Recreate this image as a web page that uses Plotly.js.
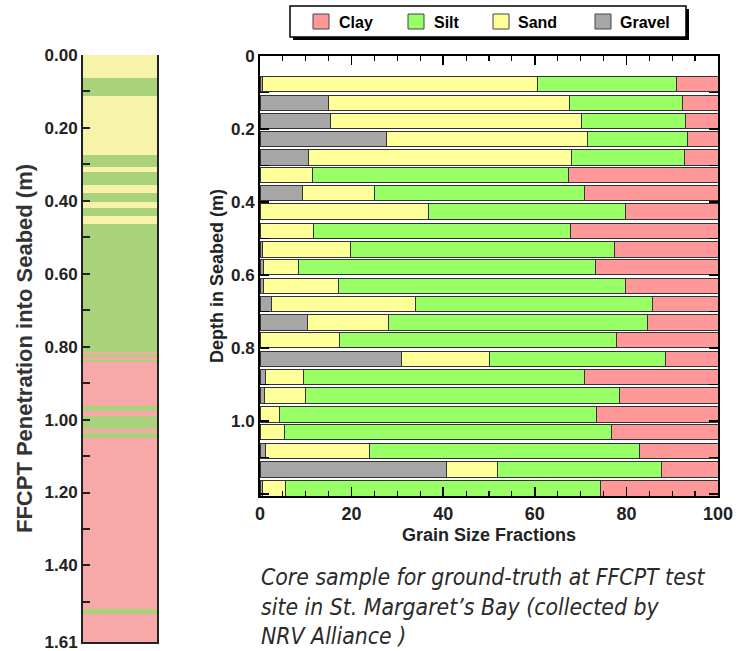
<!DOCTYPE html>
<html>
<head>
<meta charset="utf-8">
<script src="https://cdn.plot.ly/plotly-3.0.1.min.js"></script>
<style>html,body{margin:0;padding:0;background:#fff;}#chart{width:744px;height:651px;}</style>
</head>
<body>
<div id="chart"></div>
<script>
// ---------- DATA ----------
// Right panel: grain size fractions (%) per sample depth (m)
const sampleDepth = [0.077, 0.129, 0.178, 0.227, 0.277, 0.326, 0.375, 0.425, 0.479, 0.529, 0.578, 0.630,
                     0.679, 0.729, 0.778, 0.830, 0.879, 0.929, 0.981, 1.030, 1.082, 1.132, 1.184];
const gravel = [0.6, 14.9, 15.5, 27.7, 10.5, 0, 9.3, 0, 0, 0.6, 0.8, 0.7, 2.5, 10.4, 0, 31.0, 1.2, 1.0, 0, 0, 1.3, 40.8, 0.5];
const sand   = [59.9, 52.7, 54.8, 43.9, 57.6, 11.4, 15.6, 36.8, 11.7, 19.2, 7.7, 16.4, 31.5, 17.7, 17.3, 19.1, 8.3, 8.9, 4.3, 5.4, 22.5, 11.1, 5.1];
const silt   = [30.5, 24.6, 22.6, 21.7, 24.5, 55.9, 45.9, 42.9, 56.0, 57.7, 64.7, 62.8, 51.7, 56.6, 60.5, 38.5, 61.3, 68.5, 69.1, 71.4, 59.1, 35.7, 68.8];
const clay   = [9.0, 7.8, 7.1, 6.7, 7.4, 32.7, 29.2, 20.3, 32.3, 22.5, 26.8, 20.1, 14.3, 15.3, 22.2, 11.4, 29.2, 21.6, 26.6, 23.2, 17.1, 12.4, 25.6];

// Left panel: FFCPT soil column layers (m)
const layerTop    = [0, 0.062, 0.112, 0.274, 0.306, 0.321, 0.357, 0.378, 0.403, 0.420, 0.441, 0.463,
                     0.814, 0.821, 0.827, 0.836, 0.841, 0.963, 0.977, 0.990, 1.027, 1.037, 1.050, 1.520, 1.533];
const layerBottom = [0.062, 0.112, 0.274, 0.306, 0.321, 0.357, 0.378, 0.403, 0.420, 0.441, 0.463, 0.814,
                     0.821, 0.827, 0.836, 0.841, 0.963, 0.977, 0.990, 1.027, 1.037, 1.050, 1.520, 1.533, 1.61];
const layerType   = ['Sand','Silt','Sand','Silt','Sand','Silt','Sand','Silt','Sand','Silt','Sand','Silt',
                     'Clay','Silt','Clay','Silt','Clay','Silt','Clay','Silt','Clay','Silt','Clay','Silt','Clay'];

const categories = ['Clay', 'Silt', 'Sand', 'Gravel'];
const leftTickVals = [0, 0.2, 0.4, 0.6, 0.8, 1.0, 1.2, 1.4, 1.61];
const leftTickText = ['0.00', '0.20', '0.40', '0.60', '0.80', '1.00', '1.20', '1.40', '1.61'];
const rightTickVals = [0, 0.2, 0.4, 0.6, 0.8, 1.0];
const rightTickText = ['0', '0.2', '0.4', '0.6', '0.8', '1.0'];
const captionText = 'Core sample for ground-truth at FFCPT test<br>site in St. Margaret\u2019s Bay (collected by<br>NRV Alliance )';

// ---------- STYLE ----------
const W = 744, H = 651;
const fx = x => x / W;
const fy = y => 1 - y / H;
const barColors  = {Clay: '#FF9999', Silt: '#99FF66', Sand: '#FFFF99', Gravel: '#A6A6A6'};
const layerColors = {Clay: '#F7A9A9', Silt: '#A9D27B', Sand: '#F7F4AA'};
const FONT = 'Liberation Sans, Arial, Helvetica, sans-serif';
const TXT = '#222';

const seriesData = {Gravel: gravel, Sand: sand, Silt: silt, Clay: clay};
const stackOrder = ['Gravel', 'Sand', 'Silt', 'Clay'];

const traces = stackOrder.map(name => ({
  type: 'bar', orientation: 'h', name: name,
  x: seriesData[name], y: sampleDepth,
  width: 0.043,
  marker: {color: barColors[name], line: {color: '#333', width: 1}},
  xaxis: 'x', yaxis: 'y', showlegend: false, hoverinfo: 'x+y+name'
}));

traces.push({
  type: 'bar', orientation: 'v', name: 'FFCPT',
  x: layerTop.map(() => 0.5),
  base: layerTop,
  y: layerTop.map((t, i) => layerBottom[i] - t),
  width: 1,
  marker: {color: layerType.map(t => layerColors[t]), line: {width: 0}},
  xaxis: 'x2', yaxis: 'y2', showlegend: false, hoverinfo: 'skip'
});

// manual legend (boxed with drop shadow)
const legX = [313, 408, 493, 595];
const legTextX = [337, 432, 516, 618];
const shapes = [
  {type: 'rect', xref: 'paper', yref: 'paper', x0: fx(293), x1: fx(689), y0: fy(40), y1: fy(9),
   fillcolor: '#000', line: {width: 0}},
  {type: 'rect', xref: 'paper', yref: 'paper', x0: fx(290), x1: fx(686), y0: fy(37), y1: fy(6),
   fillcolor: '#fff', line: {color: '#000', width: 1.5}}
];
const annotations = [];
categories.forEach((c, i) => {
  shapes.push({type: 'rect', xref: 'paper', yref: 'paper', x0: fx(legX[i]), x1: fx(legX[i] + 16),
    y0: fy(29), y1: fy(14), fillcolor: barColors[c], line: {color: '#444', width: 1}});
  annotations.push({xref: 'paper', yref: 'paper', x: fx(legTextX[i]), y: fy(22), xanchor: 'left', yanchor: 'middle',
    text: c, showarrow: false, font: {family: FONT, size: 16, color: '#000', weight: 'bold'}});
});
annotations.push({xref: 'paper', yref: 'paper', x: fx(259), y: fy(562), xanchor: 'left', yanchor: 'top', align: 'left',
  text: captionText, showarrow: false,
  font: {family: 'DejaVu Sans Condensed, DejaVu Sans, sans-serif', size: 22.8, color: '#2a2a2a', style: 'italic'}});

const tickFont = {family: FONT, size: 17, color: TXT, weight: 'bold'};
const xTickFont = {family: FONT, size: 18, color: TXT, weight: 'bold'};

const layout = {
  width: W, height: H,
  margin: {l: 0, r: 0, t: 0, b: 0},
  paper_bgcolor: '#fff', plot_bgcolor: '#fff',
  barmode: 'stack', bargap: 0,
  showlegend: false,
  xaxis: {
    domain: [fx(260), fx(718)], range: [0, 100], anchor: 'y',
    tickvals: [0, 20, 40, 60, 80, 100], ticks: 'inside', ticklen: 9, tickwidth: 1.5, tickcolor: '#000',
    minor: {dtick: 5, ticks: 'inside', ticklen: 5, tickwidth: 1.2, tickcolor: '#000', showgrid: false},
    showline: true, linewidth: 2, linecolor: '#000', mirror: 'ticks',
    showgrid: false, zeroline: false, tickfont: xTickFont, ticklabeloverflow: 'allow',
    title: {text: 'Grain Size Fractions', font: {family: FONT, size: 18, color: TXT, weight: 'bold'}, standoff: 6}
  },
  yaxis: {
    domain: [fy(496), fy(56)], range: [1.205, 0], anchor: 'x',
    tickvals: rightTickVals, ticktext: rightTickText, ticks: 'inside', ticklen: 9, tickwidth: 1.5, tickcolor: '#000',
    minor: {dtick: 0.1, ticks: 'inside', ticklen: 9, tickwidth: 1.5, tickcolor: '#000', showgrid: false},
    showline: true, linewidth: 2, linecolor: '#000', mirror: 'ticks',
    showgrid: false, zeroline: false, tickfont: tickFont, ticklabeloverflow: 'allow',
    title: {text: 'Depth in Seabed (m)', font: {family: FONT, size: 18, color: TXT, weight: 'bold'}, standoff: 3}
  },
  xaxis2: {
    domain: [fx(83), fx(157)], range: [0, 1], anchor: 'y2',
    showticklabels: false, ticks: '', showline: true, linewidth: 2, linecolor: '#222',
    showgrid: false, zeroline: false
  },
  yaxis2: {
    domain: [fy(642), fy(55)], range: [1.61, 0], anchor: 'x2',
    tickvals: leftTickVals, ticktext: leftTickText, ticks: 'inside', ticklen: 7, tickwidth: 2, tickcolor: '#222',
    minor: {tickvals: [0.1, 0.3, 0.5, 0.7, 0.9, 1.1, 1.3, 1.5], ticks: 'inside', ticklen: 7, tickwidth: 2, tickcolor: '#222', showgrid: false},
    showline: true, linewidth: 2, linecolor: '#222', mirror: true,
    showgrid: false, zeroline: false, tickfont: tickFont, ticklabeloverflow: 'allow',
    title: {text: 'FFCPT Penetration into Seabed (m)', font: {family: FONT, size: 22, color: '#333', weight: 'bold'}, standoff: 6}
  },
  shapes: shapes,
  annotations: annotations
};

Plotly.newPlot('chart', traces, layout, {staticPlot: true, displayModeBar: false});
</script>
</body>
</html>
